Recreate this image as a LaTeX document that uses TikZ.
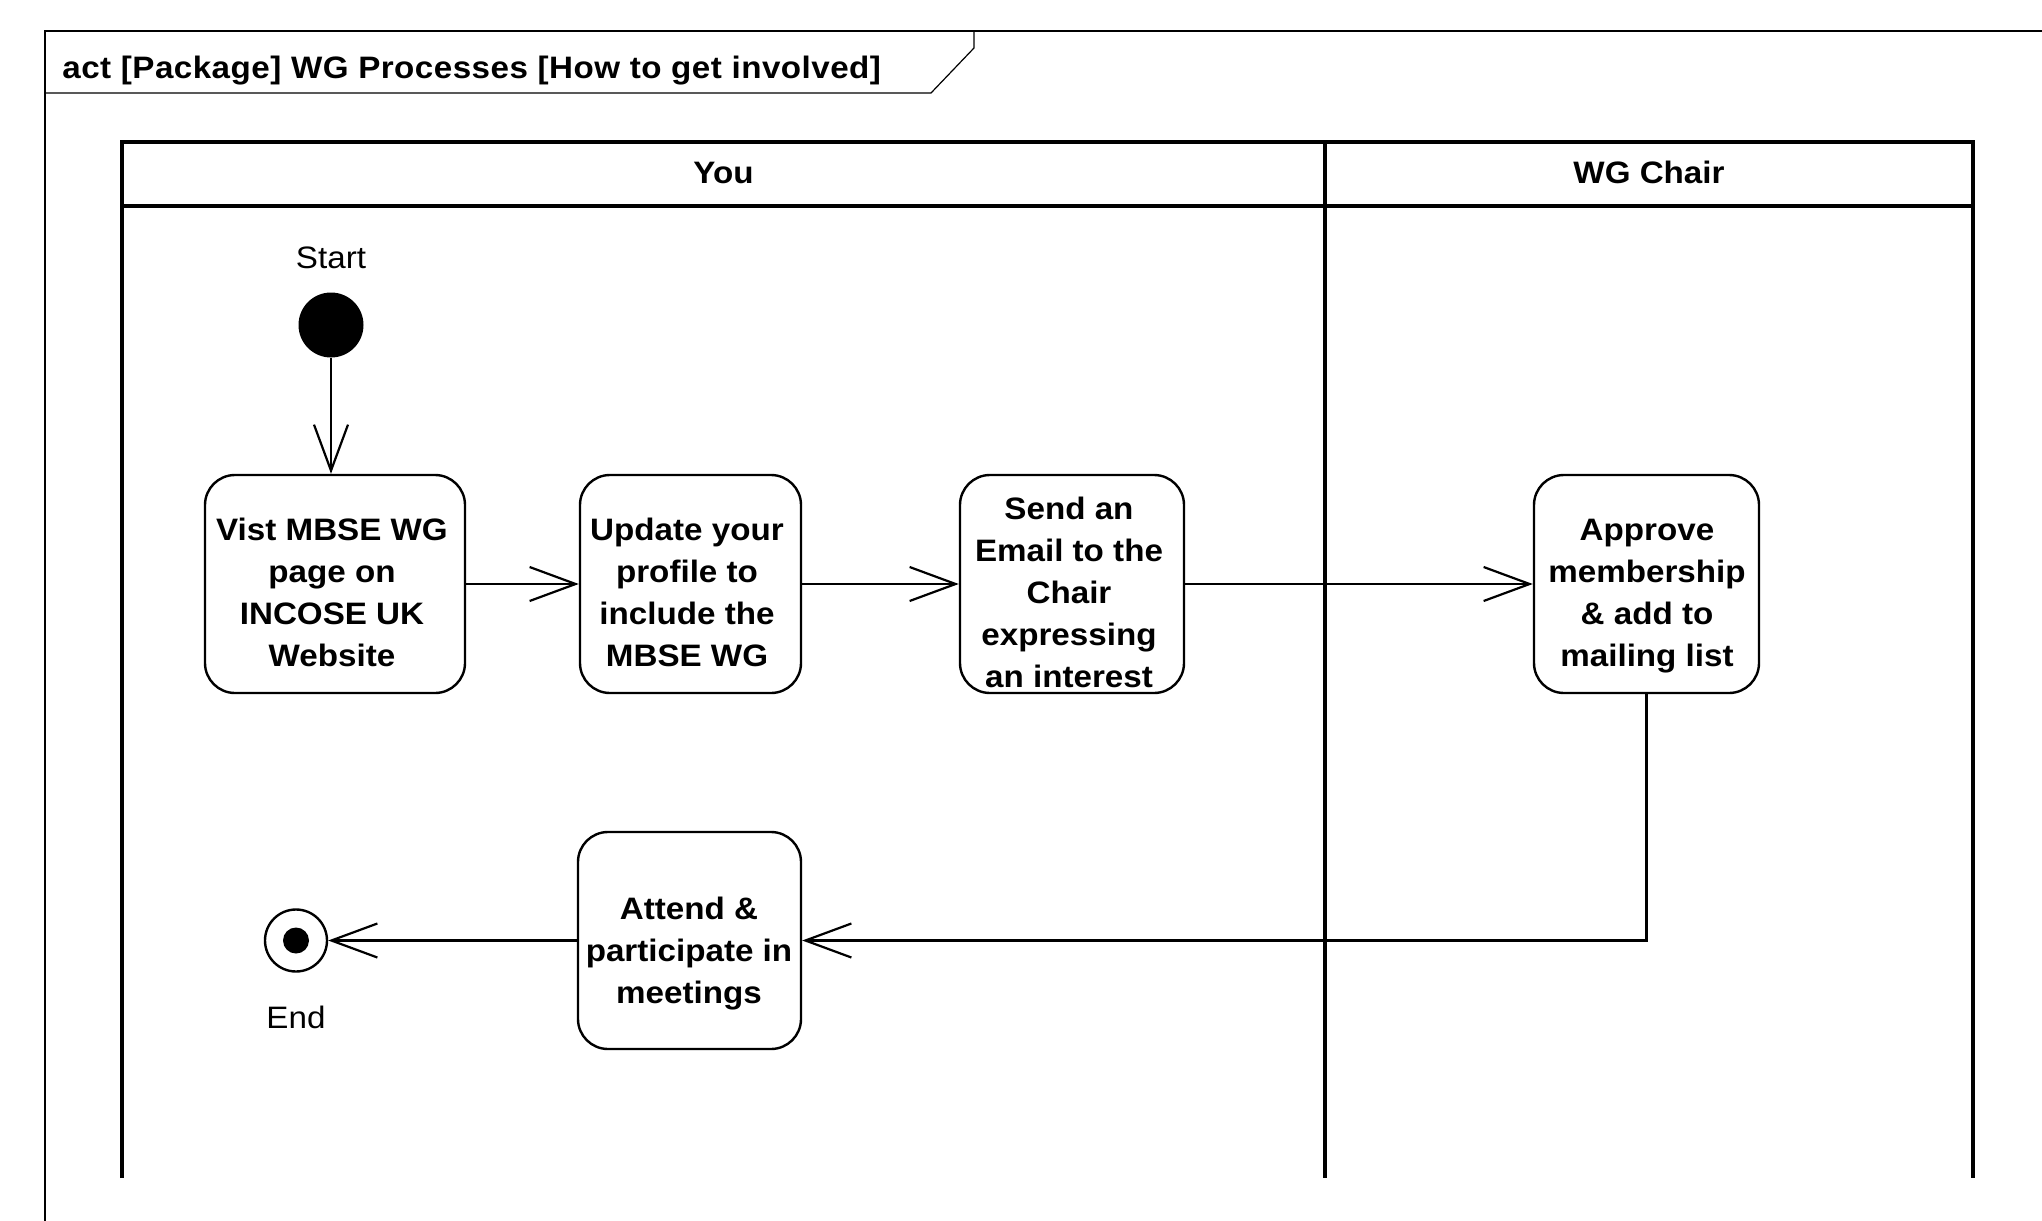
\documentclass[tikz,border=0pt]{standalone}
\usepackage{fontspec}
\setmainfont{Liberation Sans}[FakeStretch=1.07]
\usetikzlibrary{arrows.meta}
\newcommand\actfont{\fontsize{15.5pt}{21pt}\selectfont}
\begin{document}
\begin{tikzpicture}[x=0.5pt,y=-0.5pt,
  actbox/.style={draw, line width=1.2pt, rounded corners=15pt, minimum height=109pt, inner sep=0pt},
  acttext/.style={font=\actfont\bfseries, align=center, inner sep=0pt},
  plain/.style={font=\actfont, inner sep=0pt},
  flow/.style={line width=1.1pt, -{Straight Barb[length=23pt,width=17pt]}},
  lane/.style={line width=1.6pt},
  frameline/.style={line width=0.6pt}]
\useasboundingbox (0,0) rectangle (2042,1221);
% frame
\draw[frameline] (2042,31) -- (45,31) -- (45,1221);
\draw[frameline] (45,93) -- (931,93) -- (974,48) -- (974,31);
\node[font=\actfont\bfseries, anchor=base west, inner sep=0pt] (title) at (62,78) {\addfontfeature{LetterSpace=1.5}act [Package] WG Processes [How to get involved]};
% swimlanes
\draw[lane] (122,1178) -- (122,142) -- (1973,142) -- (1973,1178);
\draw[lane] (1325,142) -- (1325,1178);
\draw[lane] (122,206) -- (1973,206);
\node[acttext, anchor=base] (you) at (723.5,183) {You};
\node[acttext, anchor=base] (chair) at (1649,183) {WG Chair};
% start
\node[circle, fill, minimum size=32.5pt, inner sep=0pt] (start) at (331,325) {};
\node[plain] (startlbl) at (331,258) {Start};
% actions
\node[actbox, minimum width=130pt] (b1) at (335,584) {};
\node[acttext] (t1) at (332,594.6) {\strut Vist MBSE WG\\page on\\INCOSE UK\\Website\strut};
\node[actbox, minimum width=110.5pt] (b2) at (690.5,584) {};
\node[acttext] (t2) at (687,594.6) {\strut Update your\\profile to\\include the\\MBSE WG\strut};
\node[actbox, minimum width=112pt] (b3) at (1072,584) {};
\node[acttext] (t3) at (1069,594.6) {\strut Send an\\Email to the\\Chair\\expressing\\an interest\strut};
\node[actbox, minimum width=112.5pt] (b4) at (1646.5,584) {};
\node[acttext] (t4) at (1647,594.6) {\strut Approve\\membership\\\& add to\\mailing list\strut};
\node[actbox, minimum width=111.5pt, minimum height=108.5pt] (b5) at (689.5,940.5) {};
\node[acttext] (t5) at (689,952.6) {\strut Attend \&\\participate in\\meetings\strut};
% end
\node[circle, draw, line width=1.2pt, minimum size=31pt, inner sep=0pt] (endn) at (296,940.5) {};
\node[circle, fill, minimum size=13pt, inner sep=0pt] (enddot) at (endn.center) {};
\node[plain] (endlbl) at (296,1017) {End};
% flows
\draw[flow] (start.south) -- (start.south |- b1.north);
\draw[flow] (b1.east) -- (b2.west);
\draw[flow] (b2.east) -- (b3.west);
\draw[flow] (b3.east) -- (b4.west);
\draw[flow] (b4.south) |- (b5.east);
\draw[flow] (b5.west) -- (endn.east);
\end{tikzpicture}
\end{document}
